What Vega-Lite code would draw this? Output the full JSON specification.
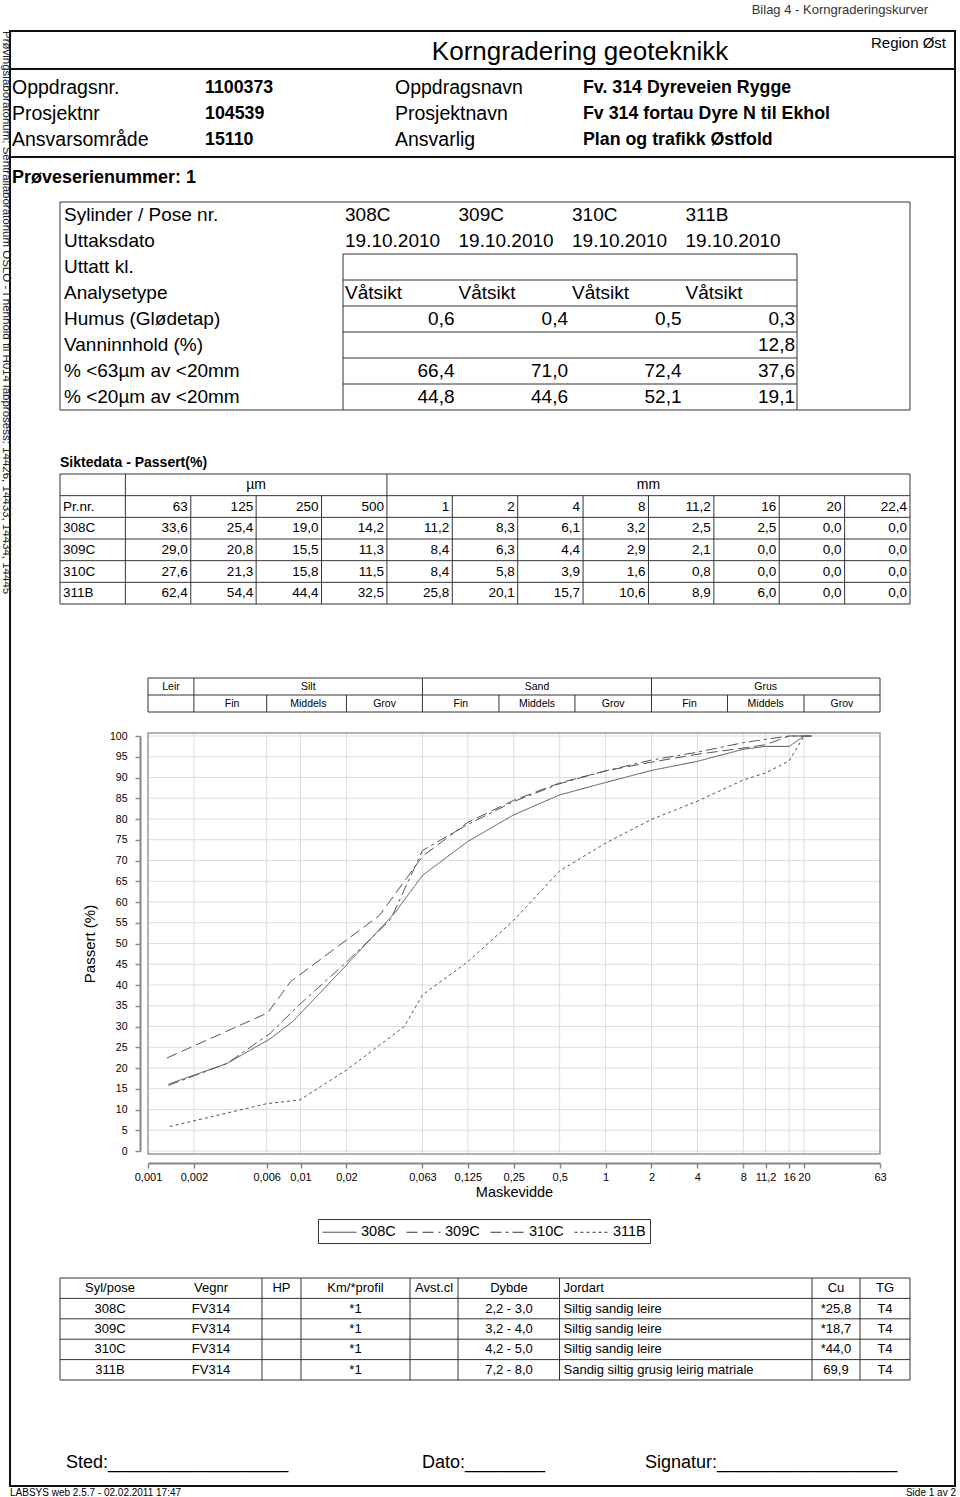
{
"$schema":"https://vega.github.io/schema/vega-lite/v6.json",
"width":960,"height":1497,"autosize":"none","padding":0,"background":"#ffffff",
"config":{"view":{"stroke":null},"text":{"font":"Liberation Sans, Arial, sans-serif","color":"#000000"}},
"datasets":{
"sample":[
{"row":"Sylinder / Pose nr.","s":"308C","v":"308C"},{"row":"Sylinder / Pose nr.","s":"309C","v":"309C"},{"row":"Sylinder / Pose nr.","s":"310C","v":"310C"},{"row":"Sylinder / Pose nr.","s":"311B","v":"311B"},
{"row":"Uttaksdato","s":"308C","v":"19.10.2010"},{"row":"Uttaksdato","s":"309C","v":"19.10.2010"},{"row":"Uttaksdato","s":"310C","v":"19.10.2010"},{"row":"Uttaksdato","s":"311B","v":"19.10.2010"},
{"row":"Analysetype","s":"308C","v":"Våtsikt"},{"row":"Analysetype","s":"309C","v":"Våtsikt"},{"row":"Analysetype","s":"310C","v":"Våtsikt"},{"row":"Analysetype","s":"311B","v":"Våtsikt"},
{"row":"Humus (Glødetap)","s":"308C","v":"0,6"},{"row":"Humus (Glødetap)","s":"309C","v":"0,4"},{"row":"Humus (Glødetap)","s":"310C","v":"0,5"},{"row":"Humus (Glødetap)","s":"311B","v":"0,3"},
{"row":"Vanninnhold (%)","s":"311B","v":"12,8"},
{"row":"% <63µm av <20mm","s":"308C","v":"66,4"},{"row":"% <63µm av <20mm","s":"309C","v":"71,0"},{"row":"% <63µm av <20mm","s":"310C","v":"72,4"},{"row":"% <63µm av <20mm","s":"311B","v":"37,6"},
{"row":"% <20µm av <20mm","s":"308C","v":"44,8"},{"row":"% <20µm av <20mm","s":"309C","v":"44,6"},{"row":"% <20µm av <20mm","s":"310C","v":"52,1"},{"row":"% <20µm av <20mm","s":"311B","v":"19,1"}
],
"sieve":[
{"s":"head","k":"Pr.nr.","v":"Pr.nr."},{"s":"head","k":"63","v":"63"},{"s":"head","k":"125","v":"125"},{"s":"head","k":"250","v":"250"},{"s":"head","k":"500","v":"500"},{"s":"head","k":"1","v":"1"},{"s":"head","k":"2","v":"2"},{"s":"head","k":"4","v":"4"},{"s":"head","k":"8","v":"8"},{"s":"head","k":"11,2","v":"11,2"},{"s":"head","k":"16","v":"16"},{"s":"head","k":"20","v":"20"},{"s":"head","k":"22,4","v":"22,4"},
{"s":"308C","k":"Pr.nr.","v":"308C"},{"s":"308C","k":"63","v":"33,6"},{"s":"308C","k":"125","v":"25,4"},{"s":"308C","k":"250","v":"19,0"},{"s":"308C","k":"500","v":"14,2"},{"s":"308C","k":"1","v":"11,2"},{"s":"308C","k":"2","v":"8,3"},{"s":"308C","k":"4","v":"6,1"},{"s":"308C","k":"8","v":"3,2"},{"s":"308C","k":"11,2","v":"2,5"},{"s":"308C","k":"16","v":"2,5"},{"s":"308C","k":"20","v":"0,0"},{"s":"308C","k":"22,4","v":"0,0"},
{"s":"309C","k":"Pr.nr.","v":"309C"},{"s":"309C","k":"63","v":"29,0"},{"s":"309C","k":"125","v":"20,8"},{"s":"309C","k":"250","v":"15,5"},{"s":"309C","k":"500","v":"11,3"},{"s":"309C","k":"1","v":"8,4"},{"s":"309C","k":"2","v":"6,3"},{"s":"309C","k":"4","v":"4,4"},{"s":"309C","k":"8","v":"2,9"},{"s":"309C","k":"11,2","v":"2,1"},{"s":"309C","k":"16","v":"0,0"},{"s":"309C","k":"20","v":"0,0"},{"s":"309C","k":"22,4","v":"0,0"},
{"s":"310C","k":"Pr.nr.","v":"310C"},{"s":"310C","k":"63","v":"27,6"},{"s":"310C","k":"125","v":"21,3"},{"s":"310C","k":"250","v":"15,8"},{"s":"310C","k":"500","v":"11,5"},{"s":"310C","k":"1","v":"8,4"},{"s":"310C","k":"2","v":"5,8"},{"s":"310C","k":"4","v":"3,9"},{"s":"310C","k":"8","v":"1,6"},{"s":"310C","k":"11,2","v":"0,8"},{"s":"310C","k":"16","v":"0,0"},{"s":"310C","k":"20","v":"0,0"},{"s":"310C","k":"22,4","v":"0,0"},
{"s":"311B","k":"Pr.nr.","v":"311B"},{"s":"311B","k":"63","v":"62,4"},{"s":"311B","k":"125","v":"54,4"},{"s":"311B","k":"250","v":"44,4"},{"s":"311B","k":"500","v":"32,5"},{"s":"311B","k":"1","v":"25,8"},{"s":"311B","k":"2","v":"20,1"},{"s":"311B","k":"4","v":"15,7"},{"s":"311B","k":"8","v":"10,6"},{"s":"311B","k":"11,2","v":"8,9"},{"s":"311B","k":"16","v":"6,0"},{"s":"311B","k":"20","v":"0,0"},{"s":"311B","k":"22,4","v":"0,0"}
],
"curves":[
{"s":"308C","d":0.00136,"p":16.1},{"s":"308C","d":0.0033,"p":21.1},{"s":"308C","d":0.0063,"p":27.0},{"s":"308C","d":0.0089,"p":31.2},{"s":"308C","d":0.02,"p":44.8},{"s":"308C","d":0.042,"p":57.6},{"s":"308C","d":0.063,"p":66.4},{"s":"308C","d":0.125,"p":74.6},{"s":"308C","d":0.25,"p":81.0},{"s":"308C","d":0.5,"p":85.8},{"s":"308C","d":1,"p":88.8},{"s":"308C","d":2,"p":91.7},{"s":"308C","d":4,"p":93.9},{"s":"308C","d":8,"p":96.8},{"s":"308C","d":11.2,"p":97.5},{"s":"308C","d":16,"p":97.5},{"s":"308C","d":20,"p":100},{"s":"308C","d":22.4,"p":100},
{"s":"309C","d":0.00133,"p":22.4},{"s":"309C","d":0.0061,"p":33.3},{"s":"309C","d":0.0086,"p":40.8},{"s":"309C","d":0.033,"p":56.8},{"s":"309C","d":0.063,"p":71.0},{"s":"309C","d":0.125,"p":79.2},{"s":"309C","d":0.25,"p":84.5},{"s":"309C","d":0.5,"p":88.7},{"s":"309C","d":1,"p":91.6},{"s":"309C","d":2,"p":93.7},{"s":"309C","d":4,"p":95.6},{"s":"309C","d":8,"p":97.1},{"s":"309C","d":11.2,"p":97.9},{"s":"309C","d":16,"p":100},{"s":"309C","d":20,"p":100},{"s":"309C","d":22.4,"p":100},
{"s":"310C","d":0.00136,"p":15.8},{"s":"310C","d":0.0033,"p":21.1},{"s":"310C","d":0.0063,"p":28.3},{"s":"310C","d":0.0098,"p":35.2},{"s":"310C","d":0.02,"p":45.5},{"s":"310C","d":0.039,"p":55.8},{"s":"310C","d":0.063,"p":72.4},{"s":"310C","d":0.125,"p":78.7},{"s":"310C","d":0.25,"p":84.2},{"s":"310C","d":0.5,"p":88.5},{"s":"310C","d":1,"p":91.6},{"s":"310C","d":2,"p":94.2},{"s":"310C","d":4,"p":96.1},{"s":"310C","d":8,"p":98.4},{"s":"310C","d":11.2,"p":99.2},{"s":"310C","d":16,"p":100},{"s":"310C","d":20,"p":100},{"s":"310C","d":22.4,"p":100},
{"s":"311B","d":0.00139,"p":5.9},{"s":"311B","d":0.006,"p":11.4},{"s":"311B","d":0.0099,"p":12.3},{"s":"311B","d":0.02,"p":19.5},{"s":"311B","d":0.048,"p":30.0},{"s":"311B","d":0.063,"p":37.6},{"s":"311B","d":0.125,"p":45.6},{"s":"311B","d":0.25,"p":55.6},{"s":"311B","d":0.5,"p":67.5},{"s":"311B","d":1,"p":74.2},{"s":"311B","d":2,"p":79.9},{"s":"311B","d":4,"p":84.3},{"s":"311B","d":8,"p":89.4},{"s":"311B","d":11.2,"p":91.1},{"s":"311B","d":16,"p":94.0},{"s":"311B","d":20,"p":100},{"s":"311B","d":22.4,"p":100}
],
"bottom":[
{"r":"hdr","c":0,"t":"Syl/pose"},{"r":"hdr","c":1,"t":"Vegnr"},{"r":"hdr","c":2,"t":"HP"},{"r":"hdr","c":3,"t":"Km/*profil"},{"r":"hdr","c":4,"t":"Avst.cl"},{"r":"hdr","c":5,"t":"Dybde"},{"r":"hdr","c":6,"t":"Jordart"},{"r":"hdr","c":7,"t":"Cu"},{"r":"hdr","c":8,"t":"TG"},
{"r":"308C","c":0,"t":"308C"},{"r":"308C","c":1,"t":"FV314"},{"r":"308C","c":3,"t":"*1"},{"r":"308C","c":5,"t":"2,2 - 3,0"},{"r":"308C","c":6,"t":"Siltig sandig leire"},{"r":"308C","c":7,"t":"*25,8"},{"r":"308C","c":8,"t":"T4"},
{"r":"309C","c":0,"t":"309C"},{"r":"309C","c":1,"t":"FV314"},{"r":"309C","c":3,"t":"*1"},{"r":"309C","c":5,"t":"3,2 - 4,0"},{"r":"309C","c":6,"t":"Siltig sandig leire"},{"r":"309C","c":7,"t":"*18,7"},{"r":"309C","c":8,"t":"T4"},
{"r":"310C","c":0,"t":"310C"},{"r":"310C","c":1,"t":"FV314"},{"r":"310C","c":3,"t":"*1"},{"r":"310C","c":5,"t":"4,2 - 5,0"},{"r":"310C","c":6,"t":"Siltig sandig leire"},{"r":"310C","c":7,"t":"*44,0"},{"r":"310C","c":8,"t":"T4"},
{"r":"311B","c":0,"t":"311B"},{"r":"311B","c":1,"t":"FV314"},{"r":"311B","c":3,"t":"*1"},{"r":"311B","c":5,"t":"7,2 - 8,0"},{"r":"311B","c":6,"t":"Sandig siltig grusig leirig matriale"},{"r":"311B","c":7,"t":"69,9"},{"r":"311B","c":8,"t":"T4"}
]
},
"layer":[
{"data":{"values":[{"part":"frame"}]},"mark":{"type":"rect","filled":false,"color":"#111111","strokeWidth":2},
 "encoding":{"x":{"datum":0,"type":"quantitative","scale":{"domain":[0,1],"range":[10,955],"nice":false,"zero":false},"axis":null},"x2":{"datum":1},
 "y":{"datum":0,"type":"quantitative","scale":{"domain":[0,1,2,3],"range":[31,69,157,1486],"nice":false,"zero":false},"axis":null},"y2":{"datum":3}}},
{"data":{"values":[{"b":1},{"b":2}]},"mark":{"type":"rule","color":"#111111","strokeWidth":2},
 "encoding":{"x":{"datum":0,"type":"quantitative","scale":{"domain":[0,1],"range":[10,955],"nice":false,"zero":false},"axis":null},"x2":{"datum":1},
 "y":{"field":"b","type":"quantitative","scale":{"domain":[0,1,2,3],"range":[31,69,157,1486],"nice":false,"zero":false},"axis":null}}},
{"data":{"values":[{"t":"Prøvingslaboratorium: Sentrallaboratorium OSLO - I henhold til H014 labprosess: 14426, 14433, 14434, 14445"}]},
 "mark":{"type":"text","angle":90,"align":"left","baseline":"middle","dy":4,"font":"Liberation Sans, Arial, sans-serif","fontSize":11.5,"color":"#222222"},
 "encoding":{"x":{"datum":0,"type":"quantitative","scale":{"domain":[0,1],"range":[10,955],"nice":false,"zero":false},"axis":null},
 "y":{"datum":0,"type":"quantitative","scale":{"domain":[0,1,2,3],"range":[31,69,157,1486],"nice":false,"zero":false},"axis":null},"text":{"field":"t"}}},
{"data":{"values":[{"t":"LABSYS web 2.5.7 - 02.02.2011 17:47"}]},
 "mark":{"type":"text","align":"left","baseline":"middle","dy":6.5,"font":"Liberation Sans, Arial, sans-serif","fontSize":10},
 "encoding":{"x":{"datum":0,"type":"quantitative","scale":{"domain":[0,1],"range":[10,955],"nice":false,"zero":false},"axis":null},
 "y":{"datum":3,"type":"quantitative","scale":{"domain":[0,1,2,3],"range":[31,69,157,1486],"nice":false,"zero":false},"axis":null},"text":{"field":"t"}}},
{"data":{"values":[{"t":"Side 1 av 2"}]},
 "mark":{"type":"text","align":"right","baseline":"middle","dy":6.5,"dx":1,"font":"Liberation Sans, Arial, sans-serif","fontSize":10},
 "encoding":{"x":{"datum":1,"type":"quantitative","scale":{"domain":[0,1],"range":[10,955],"nice":false,"zero":false},"axis":null},
 "y":{"datum":3,"type":"quantitative","scale":{"domain":[0,1,2,3],"range":[31,69,157,1486],"nice":false,"zero":false},"axis":null},"text":{"field":"t"}}},
{"data":{"values":[{"t":"Bilag 4 - Korngraderingskurver","c":4,"r":0}]},
 "mark":{"type":"text","align":"right","baseline":"middle","dx":-18,"font":"Liberation Sans, Arial, sans-serif","fontSize":13,"color":"#333333"},
 "encoding":{"x":{"field":"c","type":"quantitative","scale":{"domain":[0,1,2,3,4],"range":[12,205,395,583,946],"nice":false,"zero":false},"axis":null},
 "y":{"field":"r","type":"quantitative","scale":{"domain":[0,1,2,3,4,5],"range":[10,52,88,114,140,178],"nice":false,"zero":false},"axis":null},"text":{"field":"t"}}},
{"data":{"values":[{"t":"Region Øst","c":4,"r":1}]},
 "mark":{"type":"text","align":"right","baseline":"middle","dy":-9,"font":"Liberation Sans, Arial, sans-serif","fontSize":15},
 "encoding":{"x":{"field":"c","type":"quantitative","scale":{"domain":[0,1,2,3,4],"range":[12,205,395,583,946],"nice":false,"zero":false},"axis":null},
 "y":{"field":"r","type":"quantitative","scale":{"domain":[0,1,2,3,4,5],"range":[10,52,88,114,140,178],"nice":false,"zero":false},"axis":null},"text":{"field":"t"}}},
{"data":{"values":[{"t":"Korngradering geoteknikk","c":3,"r":1}]},
 "mark":{"type":"text","align":"center","baseline":"middle","dx":-3,"font":"Liberation Sans, Arial, sans-serif","fontSize":26},
 "encoding":{"x":{"field":"c","type":"quantitative","scale":{"domain":[0,1,2,3,4],"range":[12,205,395,583,946],"nice":false,"zero":false},"axis":null},
 "y":{"field":"r","type":"quantitative","scale":{"domain":[0,1,2,3,4,5],"range":[10,52,88,114,140,178],"nice":false,"zero":false},"axis":null},"text":{"field":"t"}}},
{"data":{"values":[{"t":"Oppdragsnr.","c":0,"r":2},{"t":"Prosjektnr","c":0,"r":3},{"t":"Ansvarsområde","c":0,"r":4},{"t":"Oppdragsnavn","c":2,"r":2},{"t":"Prosjektnavn","c":2,"r":3},{"t":"Ansvarlig","c":2,"r":4}]},
 "mark":{"type":"text","align":"left","baseline":"middle","font":"Liberation Sans, Arial, sans-serif","fontSize":19.5},
 "encoding":{"x":{"field":"c","type":"quantitative","scale":{"domain":[0,1,2,3,4],"range":[12,205,395,583,946],"nice":false,"zero":false},"axis":null},
 "y":{"field":"r","type":"quantitative","scale":{"domain":[0,1,2,3,4,5],"range":[10,52,88,114,140,178],"nice":false,"zero":false},"axis":null},"text":{"field":"t"}}},
{"data":{"values":[{"t":"1100373","c":1,"r":2},{"t":"104539","c":1,"r":3},{"t":"15110","c":1,"r":4},{"t":"Fv. 314 Dyreveien Rygge","c":3,"r":2},{"t":"Fv 314 fortau Dyre N til Ekhol","c":3,"r":3},{"t":"Plan og trafikk Østfold","c":3,"r":4}]},
 "mark":{"type":"text","align":"left","baseline":"middle","fontWeight":"bold","font":"Liberation Sans, Arial, sans-serif","fontSize":17.8},
 "encoding":{"x":{"field":"c","type":"quantitative","scale":{"domain":[0,1,2,3,4],"range":[12,205,395,583,946],"nice":false,"zero":false},"axis":null},
 "y":{"field":"r","type":"quantitative","scale":{"domain":[0,1,2,3,4,5],"range":[10,52,88,114,140,178],"nice":false,"zero":false},"axis":null},"text":{"field":"t"}}},
{"data":{"values":[{"t":"Prøveserienummer: 1","c":0,"r":5}]},
 "mark":{"type":"text","align":"left","baseline":"middle","fontWeight":"bold","font":"Liberation Sans, Arial, sans-serif","fontSize":18},
 "encoding":{"x":{"field":"c","type":"quantitative","scale":{"domain":[0,1,2,3,4],"range":[12,205,395,583,946],"nice":false,"zero":false},"axis":null},
 "y":{"field":"r","type":"quantitative","scale":{"domain":[0,1,2,3,4,5],"range":[10,52,88,114,140,178],"nice":false,"zero":false},"axis":null},"text":{"field":"t"}}},
{"data":{"values":[
 {"x1":0,"x2":6,"y1":0,"y2":0},{"x1":0,"x2":6,"y1":8,"y2":8},{"x1":0,"x2":0,"y1":0,"y2":8},{"x1":6,"x2":6,"y1":0,"y2":8},
 {"x1":1,"x2":1,"y1":2,"y2":8},{"x1":5,"x2":5,"y1":2,"y2":8},
 {"x1":1,"x2":5,"y1":2,"y2":2},{"x1":1,"x2":5,"y1":3,"y2":3},{"x1":1,"x2":5,"y1":4,"y2":4},{"x1":1,"x2":5,"y1":5,"y2":5},{"x1":1,"x2":5,"y1":6,"y2":6},{"x1":1,"x2":5,"y1":7,"y2":7}]},
 "mark":{"type":"rule","color":"#333333","strokeWidth":1},
 "encoding":{"x":{"field":"x1","type":"quantitative","scale":{"type":"linear","domain":[0,1,2,3,4,5,6],"range":[60,343,455,568,682,797,910],"nice":false,"zero":false},"axis":null},"x2":{"field":"x2"},
 "y":{"field":"y1","type":"quantitative","scale":{"domain":[0,8],"range":[202,410],"nice":false,"zero":false},"axis":null},"y2":{"field":"y2"}}},
{"data":{"values":[{"row":"Sylinder / Pose nr."},{"row":"Uttaksdato"},{"row":"Uttatt kl."},{"row":"Analysetype"},{"row":"Humus (Glødetap)"},{"row":"Vanninnhold (%)"},{"row":"% <63µm av <20mm"},{"row":"% <20µm av <20mm"}]},
 "mark":{"type":"text","align":"left","baseline":"middle","dx":4,"font":"Liberation Sans, Arial, sans-serif","fontSize":19},
 "encoding":{"x":{"datum":0,"type":"quantitative","scale":{"type":"linear","domain":[0,1,2,3,4,5,6],"range":[60,343,455,568,682,797,910],"nice":false,"zero":false},"axis":null},
 "y":{"field":"row","type":"nominal","scale":{"type":"band","domain":["Sylinder / Pose nr.","Uttaksdato","Uttatt kl.","Analysetype","Humus (Glødetap)","Vanninnhold (%)","% <63µm av <20mm","% <20µm av <20mm"],"range":[202,410],"paddingInner":0,"paddingOuter":0},"axis":null},"text":{"field":"row"}}},
{"data":{"name":"sample"},"transform":[{"filter":{"field":"row","oneOf":["Sylinder / Pose nr.","Uttaksdato","Analysetype"]}}],
 "mark":{"type":"text","align":"left","baseline":"middle","dx":2,"font":"Liberation Sans, Arial, sans-serif","fontSize":19},
 "encoding":{"x":{"field":"s","type":"nominal","bandPosition":0,"scale":{"type":"band","domain":["308C","309C","310C","311B"],"range":[343,797],"paddingInner":0,"paddingOuter":0},"axis":null},
 "y":{"field":"row","type":"nominal","scale":{"type":"band","domain":["Sylinder / Pose nr.","Uttaksdato","Uttatt kl.","Analysetype","Humus (Glødetap)","Vanninnhold (%)","% <63µm av <20mm","% <20µm av <20mm"],"range":[202,410],"paddingInner":0,"paddingOuter":0},"axis":null},"text":{"field":"v"}}},
{"data":{"name":"sample"},"transform":[{"filter":{"not":{"field":"row","oneOf":["Sylinder / Pose nr.","Uttaksdato","Analysetype"]}}}],
 "mark":{"type":"text","align":"right","baseline":"middle","dx":-2,"font":"Liberation Sans, Arial, sans-serif","fontSize":19},
 "encoding":{"x":{"field":"s","type":"nominal","bandPosition":1,"scale":{"type":"band","domain":["308C","309C","310C","311B"],"range":[343,797],"paddingInner":0,"paddingOuter":0},"axis":null},
 "y":{"field":"row","type":"nominal","scale":{"type":"band","domain":["Sylinder / Pose nr.","Uttaksdato","Uttatt kl.","Analysetype","Humus (Glødetap)","Vanninnhold (%)","% <63µm av <20mm","% <20µm av <20mm"],"range":[202,410],"paddingInner":0,"paddingOuter":0},"axis":null},"text":{"field":"v"}}},
{"data":{"values":[{"t":"Siktedata - Passert(%)"}]},
 "mark":{"type":"text","align":"left","baseline":"middle","fontWeight":"bold","font":"Liberation Sans, Arial, sans-serif","fontSize":14},
 "encoding":{"x":{"datum":0,"type":"quantitative","scale":{"domain":[0,13],"range":[60,910],"nice":false,"zero":false},"axis":null},
 "y":{"datum":-0.5,"type":"quantitative","scale":{"domain":[0,6],"range":[474,604],"nice":false,"zero":false},"axis":null},"text":{"field":"t"}}},
{"data":{"values":[
 {"x1":0,"x2":13,"y1":0,"y2":0},{"x1":0,"x2":13,"y1":1,"y2":1},{"x1":0,"x2":13,"y1":2,"y2":2},{"x1":0,"x2":13,"y1":3,"y2":3},{"x1":0,"x2":13,"y1":4,"y2":4},{"x1":0,"x2":13,"y1":5,"y2":5},{"x1":0,"x2":13,"y1":6,"y2":6},
 {"x1":0,"x2":0,"y1":0,"y2":6},{"x1":1,"x2":1,"y1":0,"y2":6},{"x1":5,"x2":5,"y1":0,"y2":6},{"x1":13,"x2":13,"y1":0,"y2":6},
 {"x1":2,"x2":2,"y1":1,"y2":6},{"x1":3,"x2":3,"y1":1,"y2":6},{"x1":4,"x2":4,"y1":1,"y2":6},{"x1":6,"x2":6,"y1":1,"y2":6},{"x1":7,"x2":7,"y1":1,"y2":6},{"x1":8,"x2":8,"y1":1,"y2":6},{"x1":9,"x2":9,"y1":1,"y2":6},{"x1":10,"x2":10,"y1":1,"y2":6},{"x1":11,"x2":11,"y1":1,"y2":6},{"x1":12,"x2":12,"y1":1,"y2":6}]},
 "mark":{"type":"rule","color":"#333333","strokeWidth":1},
 "encoding":{"x":{"field":"x1","type":"quantitative","scale":{"domain":[0,13],"range":[60,910],"nice":false,"zero":false},"axis":null},"x2":{"field":"x2"},
 "y":{"field":"y1","type":"quantitative","scale":{"domain":[0,6],"range":[474,604],"nice":false,"zero":false},"axis":null},"y2":{"field":"y2"}}},
{"data":{"values":[{"u":"µm","k":"250"},{"u":"mm","k":"11,2"}]},
 "mark":{"type":"text","align":"center","baseline":"middle","font":"Liberation Sans, Arial, sans-serif","fontSize":14},
 "encoding":{"x":{"field":"k","type":"nominal","bandPosition":0,"scale":{"type":"band","domain":["Pr.nr.","63","125","250","500","1","2","4","8","11,2","16","20","22,4"],"range":[60,910],"paddingInner":0,"paddingOuter":0},"axis":null},
 "y":{"datum":"unit","type":"nominal","scale":{"type":"band","domain":["unit","head","308C","309C","310C","311B"],"range":[474,604],"paddingInner":0,"paddingOuter":0},"axis":null},"text":{"field":"u"}}},
{"data":{"name":"sieve"},"transform":[{"filter":{"field":"k","equal":"Pr.nr."}}],
 "mark":{"type":"text","align":"left","baseline":"middle","dx":3,"font":"Liberation Sans, Arial, sans-serif","fontSize":13.5},
 "encoding":{"x":{"field":"k","type":"nominal","bandPosition":0,"scale":{"type":"band","domain":["Pr.nr.","63","125","250","500","1","2","4","8","11,2","16","20","22,4"],"range":[60,910],"paddingInner":0,"paddingOuter":0},"axis":null},
 "y":{"field":"s","type":"nominal","scale":{"type":"band","domain":["unit","head","308C","309C","310C","311B"],"range":[474,604],"paddingInner":0,"paddingOuter":0},"axis":null},"text":{"field":"v"},
 "fontWeight":{"condition":{"test":"datum.s == 'head'","value":"bold"},"value":"normal"}}},
{"data":{"name":"sieve"},"transform":[{"filter":{"not":{"field":"k","equal":"Pr.nr."}}}],
 "mark":{"type":"text","align":"right","baseline":"middle","dx":-3,"font":"Liberation Sans, Arial, sans-serif","fontSize":13.5},
 "encoding":{"x":{"field":"k","type":"nominal","bandPosition":1,"scale":{"type":"band","domain":["Pr.nr.","63","125","250","500","1","2","4","8","11,2","16","20","22,4"],"range":[60,910],"paddingInner":0,"paddingOuter":0},"axis":null},
 "y":{"field":"s","type":"nominal","scale":{"type":"band","domain":["unit","head","308C","309C","310C","311B"],"range":[474,604],"paddingInner":0,"paddingOuter":0},"axis":null},"text":{"field":"v"}}},
{"data":{"values":[
 {"x1":0.001,"x2":63,"y1":0,"y2":0},{"x1":0.001,"x2":63,"y1":1,"y2":1},{"x1":0.001,"x2":63,"y1":2,"y2":2},
 {"x1":0.001,"x2":0.001,"y1":0,"y2":2},{"x1":0.002,"x2":0.002,"y1":0,"y2":2},{"x1":0.063,"x2":0.063,"y1":0,"y2":2},{"x1":2,"x2":2,"y1":0,"y2":2},{"x1":63,"x2":63,"y1":0,"y2":2},
 {"x1":0.006,"x2":0.006,"y1":1,"y2":2},{"x1":0.02,"x2":0.02,"y1":1,"y2":2},{"x1":0.2,"x2":0.2,"y1":1,"y2":2},{"x1":0.63,"x2":0.63,"y1":1,"y2":2},{"x1":6.3,"x2":6.3,"y1":1,"y2":2},{"x1":20,"x2":20,"y1":1,"y2":2}]},
 "mark":{"type":"rule","color":"#333333","strokeWidth":1},
 "encoding":{"x":{"field":"x1","type":"quantitative","scale":{"type":"log","domain":[0.001,63],"range":[148,880],"nice":false},"axis":null},"x2":{"field":"x2"},
 "y":{"field":"y1","type":"quantitative","scale":{"domain":[0,2],"range":[678,712],"nice":false,"zero":false},"axis":null},"y2":{"field":"y2"}}},
{"data":{"values":[{"t":"Silt","cell":"Silt Middels"},{"t":"Sand","cell":"Sand Middels"},{"t":"Grus","cell":"Grus Middels"}]},
 "mark":{"type":"text","align":"center","baseline":"middle","font":"Liberation Sans, Arial, sans-serif","fontSize":10.5},
 "encoding":{"x":{"field":"cell","type":"nominal","scale":{"type":"band","domain":["Silt Fin","Silt Middels","Silt Grov","Sand Fin","Sand Middels","Sand Grov","Grus Fin","Grus Middels","Grus Grov"],"range":[194,880],"paddingInner":0,"paddingOuter":0},"axis":null},
 "y":{"datum":"top","type":"nominal","scale":{"type":"band","domain":["top","bottom"],"range":[678,712],"paddingInner":0,"paddingOuter":0},"axis":null},"text":{"field":"t"}}},
{"data":{"values":[{"t":"Leir","lo":0.001}]},
 "mark":{"type":"text","align":"center","baseline":"middle","dx":23,"font":"Liberation Sans, Arial, sans-serif","fontSize":10.5},
 "encoding":{"x":{"field":"lo","type":"quantitative","scale":{"type":"log","domain":[0.001,63],"range":[148,880],"nice":false},"axis":null},
 "y":{"datum":"top","type":"nominal","scale":{"type":"band","domain":["top","bottom"],"range":[678,712],"paddingInner":0,"paddingOuter":0},"axis":null},"text":{"field":"t"}}},
{"data":{"values":[{"t":"Fin","cell":"Silt Fin"},{"t":"Middels","cell":"Silt Middels"},{"t":"Grov","cell":"Silt Grov"},{"t":"Fin","cell":"Sand Fin"},{"t":"Middels","cell":"Sand Middels"},{"t":"Grov","cell":"Sand Grov"},{"t":"Fin","cell":"Grus Fin"},{"t":"Middels","cell":"Grus Middels"},{"t":"Grov","cell":"Grus Grov"}]},
 "mark":{"type":"text","align":"center","baseline":"middle","font":"Liberation Sans, Arial, sans-serif","fontSize":10.5},
 "encoding":{"x":{"field":"cell","type":"nominal","scale":{"type":"band","domain":["Silt Fin","Silt Middels","Silt Grov","Sand Fin","Sand Middels","Sand Grov","Grus Fin","Grus Middels","Grus Grov"],"range":[194,880],"paddingInner":0,"paddingOuter":0},"axis":null},
 "y":{"datum":"bottom","type":"nominal","scale":{"type":"band","domain":["top","bottom"],"range":[678,712],"paddingInner":0,"paddingOuter":0},"axis":null},"text":{"field":"t"}}},
{"data":{"values":[{"d":0.002},{"d":0.006},{"d":0.01},{"d":0.02},{"d":0.063},{"d":0.125},{"d":0.25},{"d":0.5},{"d":1},{"d":2},{"d":4},{"d":8},{"d":11.2},{"d":16},{"d":20}]},
 "mark":{"type":"rule","color":"#dddddd","strokeWidth":1},
 "encoding":{"x":{"field":"d","type":"quantitative","scale":{"type":"log","domain":[0.001,63],"range":[148,880],"nice":false},"axis":null},
 "y":{"datum":-0.7,"type":"quantitative","scale":{"type":"linear","domain":[0,100],"range":[1151,736],"nice":false,"zero":false},"axis":null},"y2":{"datum":100.7}}},
{"data":{"values":[{"p":0},{"p":5},{"p":10},{"p":15},{"p":20},{"p":25},{"p":30},{"p":35},{"p":40},{"p":45},{"p":50},{"p":55},{"p":60},{"p":65},{"p":70},{"p":75},{"p":80},{"p":85},{"p":90},{"p":95},{"p":100}]},
 "mark":{"type":"rule","color":"#dddddd","strokeWidth":1},
 "encoding":{"x":{"datum":0.001,"type":"quantitative","scale":{"type":"log","domain":[0.001,63],"range":[148,880],"nice":false},"axis":null},"x2":{"datum":63},
 "y":{"field":"p","type":"quantitative","scale":{"type":"linear","domain":[0,100],"range":[1151,736],"nice":false,"zero":false},"axis":null}}},
{"data":{"values":[{"part":"plotframe"}]},
 "mark":{"type":"rect","filled":false,"color":"#999999","strokeWidth":1.5},
 "encoding":{"x":{"datum":0.001,"type":"quantitative","scale":{"type":"log","domain":[0.001,63],"range":[148,880],"nice":false},"axis":null},"x2":{"datum":63},
 "y":{"datum":-0.7,"type":"quantitative","scale":{"type":"linear","domain":[0,100],"range":[1151,736],"nice":false,"zero":false},"axis":null},"y2":{"datum":100.7}}},
{"data":{"name":"curves"},
 "mark":{"type":"line","color":"#555555","strokeWidth":1},
 "encoding":{
  "x":{"field":"d","type":"quantitative","scale":{"type":"log","domain":[0.001,63],"range":[148,880],"nice":false},
   "axis":{"orient":"bottom","offset":-334,"values":[0.001,0.002,0.006,0.01,0.02,0.063,0.125,0.25,0.5,1,2,4,8,11.2,16,20,63],"labelExpr":"replace(datum.value + '', '.', ',')","labelOverlap":false,"labelFlush":false,"labelBound":false,"grid":false,"domainColor":"#888888","domainWidth":2,"tickColor":"#888888","tickWidth":1.5,"tickSize":5,"labelFont":"Liberation Sans, Arial, sans-serif","labelFontSize":11,"labelColor":"#000000","labelPadding":3,"title":"Maskevidde","titleFont":"Liberation Sans, Arial, sans-serif","titleFontSize":14.5,"titleFontWeight":"normal","titleColor":"#000000","titlePadding":3}},
  "y":{"field":"p","type":"quantitative","scale":{"type":"linear","domain":[0,100],"range":[1151,736],"nice":false,"zero":false},
   "axis":{"orient":"left","offset":-140,"values":[0,5,10,15,20,25,30,35,40,45,50,55,60,65,70,75,80,85,90,95,100],"format":"d","grid":false,"domainColor":"#888888","domainWidth":2,"tickColor":"#888888","tickWidth":1.5,"tickSize":5,"labelFont":"Liberation Sans, Arial, sans-serif","labelFontSize":10.5,"labelColor":"#000000","labelPadding":8,"title":"Passert (%)","titleFont":"Liberation Sans, Arial, sans-serif","titleFontSize":15,"titleFontWeight":"normal","titleColor":"#000000","titlePadding":12}},
  "strokeDash":{"field":"s","type":"nominal","scale":{"domain":["308C","309C","310C","311B"],"range":[[1,0],[11,5],[11,4,3,4],[3,3]]},
   "legend":{"orient":"none","legendX":318,"legendY":1219,"direction":"horizontal","title":null,"strokeColor":"#333333","padding":4,"symbolType":"M-1,0H3","symbolSize":289,"symbolStrokeWidth":1,"symbolStrokeColor":"#333333","symbolFillColor":"transparent","labelFont":"Liberation Sans, Arial, sans-serif","labelFontSize":14.5,"labelColor":"#000000","labelOffset":21,"columnPadding":8}}}},
{"data":{"values":[
 {"x1":0,"x2":9,"y1":0,"y2":0},{"x1":0,"x2":9,"y1":1,"y2":1},{"x1":0,"x2":9,"y1":2,"y2":2},{"x1":0,"x2":9,"y1":3,"y2":3},{"x1":0,"x2":9,"y1":4,"y2":4},{"x1":0,"x2":9,"y1":5,"y2":5},
 {"x1":0,"x2":0,"y1":0,"y2":5},{"x1":2,"x2":2,"y1":0,"y2":5},{"x1":3,"x2":3,"y1":0,"y2":5},{"x1":4,"x2":4,"y1":0,"y2":5},{"x1":5,"x2":5,"y1":0,"y2":5},{"x1":6,"x2":6,"y1":0,"y2":5},{"x1":7,"x2":7,"y1":0,"y2":5},{"x1":8,"x2":8,"y1":0,"y2":5},{"x1":9,"x2":9,"y1":0,"y2":5}]},
 "mark":{"type":"rule","color":"#333333","strokeWidth":1},
 "encoding":{"x":{"field":"x1","type":"quantitative","scale":{"type":"linear","domain":[0,1,2,3,4,5,6,7,8,9],"range":[60,160,262,301,410,458,559.5,812,860,910],"nice":false,"zero":false},"axis":null},"x2":{"field":"x2"},
 "y":{"field":"y1","type":"quantitative","scale":{"domain":[0,5],"range":[1278,1380],"nice":false,"zero":false},"axis":null},"y2":{"field":"y2"}}},
{"data":{"name":"bottom"},"transform":[{"filter":"datum.c != 6"}],
 "mark":{"type":"text","align":"center","baseline":"middle","font":"Liberation Sans, Arial, sans-serif","fontSize":13},
 "encoding":{"x":{"field":"c","type":"quantitative","scale":{"type":"linear","domain":[0,1,2,3,4,5,6,7,8],"range":[110,211,281.5,355.5,434,509,686,836,885],"nice":false,"zero":false},"axis":null},
 "y":{"field":"r","type":"nominal","scale":{"type":"band","domain":["hdr","308C","309C","310C","311B"],"range":[1278,1380],"paddingInner":0,"paddingOuter":0},"axis":null},"text":{"field":"t"},
 "fontWeight":{"condition":{"test":"datum.r == 'hdr'","value":"bold"},"value":"normal"}}},
{"data":{"name":"bottom"},"transform":[{"filter":"datum.c == 6"}],
 "mark":{"type":"text","align":"left","baseline":"middle","dx":4,"font":"Liberation Sans, Arial, sans-serif","fontSize":13},
 "encoding":{"x":{"field":"c","type":"quantitative","scale":{"type":"linear","domain":[0,1,2,3,4,5,6,7,8,9],"range":[60,160,262,301,410,458,559.5,812,860,910],"nice":false,"zero":false},"axis":null},
 "y":{"field":"r","type":"nominal","scale":{"type":"band","domain":["hdr","308C","309C","310C","311B"],"range":[1278,1380],"paddingInner":0,"paddingOuter":0},"axis":null},"text":{"field":"t"},
 "fontWeight":{"condition":{"test":"datum.r == 'hdr'","value":"bold"},"value":"normal"}}},
{"data":{"values":[{"t":"Sted:__________________","i":0},{"t":"Dato:________","i":1},{"t":"Signatur:__________________","i":2}]},
 "mark":{"type":"text","align":"left","baseline":"middle","dy":-23,"font":"Liberation Sans, Arial, sans-serif","fontSize":18},
 "encoding":{"x":{"field":"i","type":"quantitative","scale":{"type":"linear","domain":[0,1,2],"range":[66,422,645],"nice":false,"zero":false},"axis":null},
 "y":{"datum":3,"type":"quantitative","scale":{"domain":[0,1,2,3],"range":[31,69,157,1486],"nice":false,"zero":false},"axis":null},"text":{"field":"t"}}}
],
"resolve":{"scale":{"x":"independent","y":"independent"}}
}
